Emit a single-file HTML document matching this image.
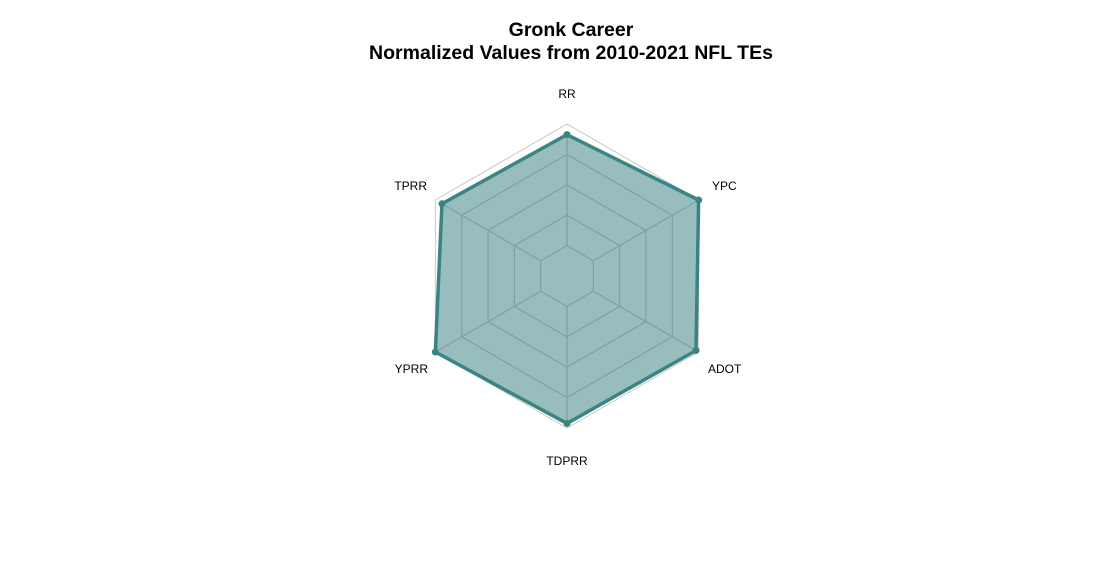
<!DOCTYPE html>
<html><head><meta charset="utf-8"><style>
html,body{margin:0;padding:0;background:#fff;}
svg{display:block;font-family:"Liberation Sans",Arial,sans-serif;}
</style></head><body>
<svg id="chart" width="1097" height="572" viewBox="0 0 1097 572">
<text x="571" y="36" text-anchor="middle" font-size="19.5" font-weight="bold">Gronk Career</text>
<text x="571" y="59" text-anchor="middle" font-size="19.5" font-weight="bold">Normalized Values from 2010-2021 NFL TEs</text>
<g id="grid"></g>
<g id="series"></g>
<g id="labels"></g>
</svg>
<script>
const categories = ["RR","YPC","ADOT","TDPRR","YPRR","TPRR"];
const values = [0.93, 1.0, 0.98, 0.97, 1.0, 0.95];
const gridLevels = [0.2, 0.4, 0.6, 0.8, 1.0];

const NS = "http://www.w3.org/2000/svg";
const cx = 567, cy = 276, R = 152;
function pt(i, f){ const a = -Math.PI/2 + i*2*Math.PI/categories.length; return [cx + R*f*Math.cos(a), cy + R*f*Math.sin(a)]; }
function mk(tag, attrs, parent){ const e=document.createElementNS(NS,tag); for(const k in attrs) e.setAttribute(k,attrs[k]); parent.appendChild(e); return e; }
const grid=document.getElementById('grid'), series=document.getElementById('series'), labels=document.getElementById('labels');

const outer = mk('polygon',{points:categories.map((c,i)=>pt(i,1).join(',')).join(' '),fill:'none',stroke:'#c8c8c8','stroke-width':1},grid);



const poly = mk('polygon',{points:values.map((v,i)=>pt(i,v).join(',')).join(' '),fill:'rgba(56,128,128,0.52)',stroke:'#3a8484','stroke-width':3.5,'stroke-linejoin':'round'},series);



gridLevels.slice(0,-1).forEach((g,k)=>{
  const p = mk('polygon',{points:categories.map((c,i)=>pt(i,g).join(',')).join(' '),fill:'none',stroke:'#7f9999','stroke-width':1},series);
  
  
});
categories.forEach((c,i)=>{
  const a=pt(i,gridLevels[0]), b=pt(i,values[i]);
  const l = mk('line',{x1:a[0],y1:a[1],x2:b[0],y2:b[1],stroke:'#7f9999','stroke-width':1},series);
  
  
});
values.forEach((v,i)=>{
  const p=pt(i,v);
  const d = mk('circle',{cx:p[0],cy:p[1],r:3.5,fill:'#3a8484'},series);
  
  
});
const labelPos = [[567,98,'middle'],[712,190,'start'],[708,373,'start'],[567,465,'middle'],[428,373,'end'],[427,190,'end']];
categories.forEach((c,i)=>{
  const t = mk('text',{x:labelPos[i][0],y:labelPos[i][1],'text-anchor':labelPos[i][2],'font-size':12,fill:'#000'},labels);
  t.textContent=c;
  
  
});
</script>
</body></html>
